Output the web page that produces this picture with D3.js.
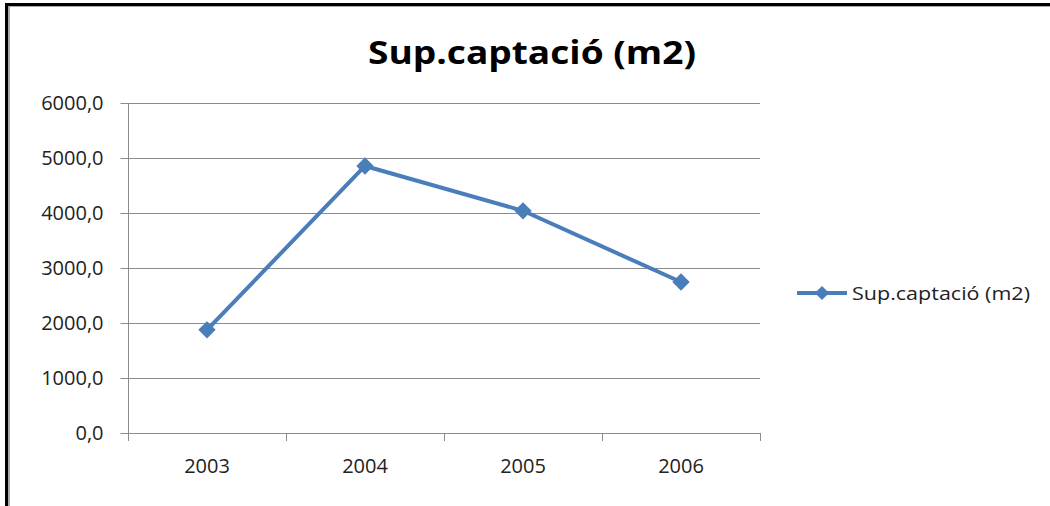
<!DOCTYPE html>
<html>
<head>
<meta charset="utf-8">
<script src="https://cdn.jsdelivr.net/npm/d3@7"></script>
<style>
  body { margin: 0; background: #fff; }
  text { font-family: "Open Sans", "DejaVu Sans", sans-serif; fill: #222; }
</style>
</head>
<body>
<div class="chart"></div>
<script>
// data
var years = ["2003", "2004", "2005", "2006"];
var values = [1875, 4855, 4040, 2745];
var yTicks = [0, 1000, 2000, 3000, 4000, 5000, 6000];
var seriesName = "Sup.captació (m2)";
var titleText = "Sup.captació (m2)";

var svgWidth = 1050;
var svgHeight = 506;
var margin = { top: 103, left: 128 };
var width = 632;
var height = 330;
var color = "#4a7ebb";

var svg = d3.select(".chart").append("svg")
  .attr("width", svgWidth)
  .attr("height", svgHeight);

// frame: black outer, gray inner (top and left only)
svg.append("rect").attr("x", 5).attr("y", 3).attr("width", 3).attr("height", svgHeight).attr("fill", "#000");
svg.append("rect").attr("x", 5).attr("y", 3).attr("width", svgWidth).attr("height", 3).attr("fill", "#000");
svg.append("rect").attr("x", 8).attr("y", 6).attr("width", 2).attr("height", svgHeight).attr("fill", "#aaa");
svg.append("rect").attr("x", 8).attr("y", 6).attr("width", svgWidth).attr("height", 1).attr("fill", "#aaa");

svg.append("text")
  .attr("x", 532)
  .attr("y", 64)
  .attr("text-anchor", "middle")
  .attr("font-size", 32)
  .attr("font-weight", "bold")
  .attr("textLength", 328)
  .attr("lengthAdjust", "spacingAndGlyphs")
  .style("fill", "#000")
  .text(titleText);

var chart = svg.append("g")
  .attr("transform", "translate(" + margin.left + "," + margin.top + ")");

var x = d3.scaleBand().domain(years).range([0, width]);
var y = d3.scaleLinear().domain([0, 6000]).range([height, 0]);

// gridlines
chart.selectAll(".grid").data(yTicks.slice(1)).enter().append("line")
  .attr("x1", 0).attr("x2", width)
  .attr("y1", function(d) { return Math.round(y(d)) + 0.5; })
  .attr("y2", function(d) { return Math.round(y(d)) + 0.5; })
  .attr("stroke", "#8c8c8c").attr("stroke-width", 1);

var leftAxis = d3.axisLeft(y)
  .tickValues(yTicks)
  .tickSize(8)
  .tickPadding(17)
  .tickFormat(function(d) { return d3.format(".1f")(d).replace(".", ","); });

var bottomAxis = d3.axisBottom(x).tickSize(0).tickPadding(25);

var gy = chart.append("g").attr("transform", "translate(0.5,0)").call(leftAxis);
var gx = chart.append("g").attr("transform", "translate(0," + (height + 0.5) + ")").call(bottomAxis);

[gy, gx].forEach(function(g) {
  g.selectAll("path, line").attr("stroke", "#8c8c8c");
  g.selectAll("text").attr("font-size", 20).style("font-family", "\"Open Sans\", sans-serif").attr("fill", "#222");
});
gx.select(".domain").attr("d", "M0,0H" + width);
gy.select(".domain").attr("d", "M0," + height + "V0");

// x tick marks at category boundaries
chart.selectAll(".xtick").data(d3.range(years.length + 1)).enter().append("line")
  .attr("x1", function(i) { return Math.round(i * x.step()) + 0.5; })
  .attr("x2", function(i) { return Math.round(i * x.step()) + 0.5; })
  .attr("y1", height).attr("y2", height + 8)
  .attr("stroke", "#8c8c8c");

var line = d3.line()
  .x(function(d, i) { return x(years[i]) + x.bandwidth() / 2; })
  .y(function(d) { return y(d); });

chart.append("path")
  .datum(values)
  .attr("d", line)
  .attr("fill", "none")
  .attr("stroke", color)
  .attr("stroke-width", 4)
  .attr("stroke-linejoin", "round");

var diamond = d3.symbol().type(d3.symbolSquare).size(150);
chart.selectAll(".pt").data(values).enter().append("path")
  .attr("d", diamond)
  .attr("transform", function(d, i) {
    return "translate(" + (x(years[i]) + x.bandwidth() / 2) + "," + y(d) + ") rotate(45)";
  })
  .attr("fill", color);

// legend
var legend = svg.append("g").attr("transform", "translate(797,293)");
legend.append("line").attr("x1", 0).attr("x2", 50).attr("stroke", color).attr("stroke-width", 4);
legend.append("path").attr("d", d3.symbol().type(d3.symbolSquare).size(100))
  .attr("transform", "translate(25,0) rotate(45)").attr("fill", color);
legend.append("text")
  .attr("x", 55).attr("y", 7)
  .attr("font-size", 19)
  .attr("textLength", 178)
  .attr("lengthAdjust", "spacingAndGlyphs")
  .text(seriesName);
</script>
</body>
</html>
